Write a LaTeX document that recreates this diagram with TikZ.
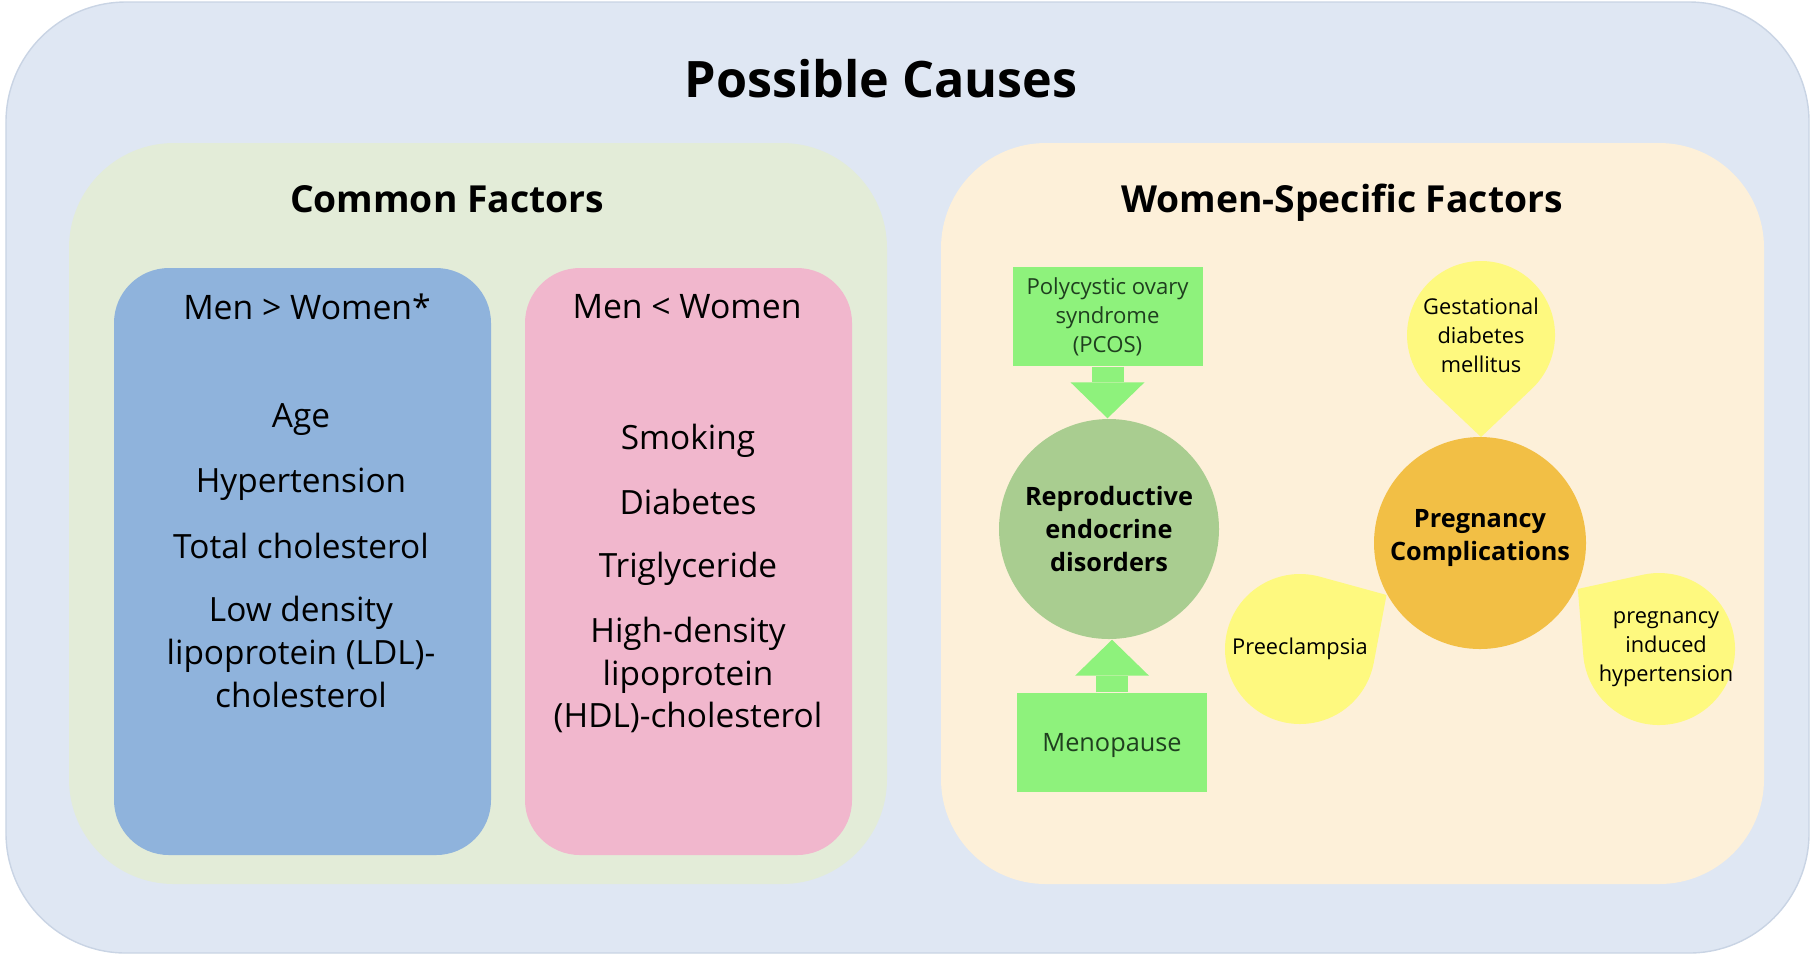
\documentclass[tikz,border=0pt]{standalone}
\usepackage{fontspec}
\setmainfont{Open Sans}
\usetikzlibrary{arrows.meta,calc}
\definecolor{outerblue}{HTML}{DFE7F3}
\definecolor{outerline}{HTML}{C9D4E4}
\definecolor{commongreen}{HTML}{E3ECD8}
\definecolor{womenbeige}{HTML}{FDF0D9}
\definecolor{menblue}{HTML}{8FB3DC}
\definecolor{womenpink}{HTML}{F1B7CD}
\definecolor{boxgreen}{HTML}{8EF27C}
\definecolor{reprogreen}{HTML}{A9CD90}
\definecolor{pregorange}{HTML}{F2BF45}
\definecolor{blobyellow}{HTML}{FEF97F}
\definecolor{textgreen}{HTML}{1F3F1F}
\newcommand{\tipwidth}{7.4mm}
\newcommand{\tiplength}{3.6mm}
\newcommand{\shaft}{3.2mm}
% teardrop: centre, tip angle, radius, tip distance
\newcommand{\blob}[4]{\fill[blobyellow] ($(#1)+(#2:#4)$) -- ($(#1)+({#2+acos(#3/#4)}:#3)$) arc[start angle={#2+acos(#3/#4)}, delta angle={360-2*acos(#3/#4)}, radius=#3] -- cycle;}

\begin{document}
\begin{tikzpicture}[
  panel/.style={rectangle, inner sep=0pt, rounded corners=#1},
  title/.style={font=\bfseries\fontsize{14.3}{17}\selectfont},
  subtitle/.style={font=\bfseries\fontsize{10.6}{13}\selectfont},
  boxtitle/.style={font=\fontsize{9.6}{12}\selectfont},
  item/.style={align=center, inner sep=0pt, font=\fontsize{9.5}{12.2}\selectfont},
  greenbox/.style={rectangle, fill=boxgreen, inner sep=0pt, align=center, text=textgreen, minimum width=1.9cm, minimum height=0.99cm},
  hub/.style={circle, inner sep=0pt, align=center, font=\bfseries\fontsize{7.2}{9.5}\selectfont},
  blobtext/.style={align=center, inner sep=0pt, font=\fontsize{6.2}{8.2}\selectfont},
  blockarrow/.style={draw=boxgreen, line width=\shaft, -{Triangle[width=\tipwidth, length=\tiplength, line width=0pt]}}
]
\useasboundingbox (0,0) rectangle (18.11,-9.57);
%panels
\node[panel=1.2cm, fill=outerblue, draw=outerline, minimum width=18.03cm, minimum height=9.51cm] (causes) at (9.075,-4.775) {};
\node[panel=1.05cm, fill=commongreen, minimum width=8.18cm, minimum height=7.41cm] (common) at (4.78,-5.135) {};
\node[panel=1.05cm, fill=womenbeige, minimum width=8.23cm, minimum height=7.41cm] (specific) at (13.525,-5.135) {};
\node[panel=0.55cm, fill=menblue, minimum width=3.77cm, minimum height=5.87cm] (menmore) at (3.025,-5.615) {};
\node[panel=0.55cm, fill=womenpink, minimum width=3.27cm, minimum height=5.87cm] (womenmore) at (6.885,-5.615) {};
%titles
\node[title] (causestitle) at (8.81,-0.79) {Possible Causes};
\node[subtitle] (commontitle) at (4.47,-1.99) {Common Factors};
\node[subtitle] (specifictitle) at (13.42,-2.03) {Women-Specific Factors};
\node[boxtitle] (menmoretitle) at (3.07,-3.07) {Men > Women*};
\node[boxtitle] (womenmoretitle) at (6.87,-3.07) {Men < Women};
%men > women
\node[item] (age) at (3.01,-4.20) {Age};
\node[item] (hyper) at (3.01,-4.84) {Hypertension};
\node[item] (tc) at (3.01,-5.46) {Total cholesterol};
\node[item] (ldl) at (3.01,-6.52) {Low density\\lipoprotein (LDL)-\\cholesterol};
%men < women
\node[item] (smoke) at (6.88,-4.41) {Smoking};
\node[item] (diab) at (6.88,-5.02) {Diabetes};
\node[item] (tg) at (6.88,-5.69) {Triglyceride};
\node[item] (hdl) at (6.88,-6.75) {High-density\\lipoprotein\\(HDL)-cholesterol};
%reproductive
\node[hub, fill=reprogreen, minimum size=2.2cm] (repro) at (11.09,-5.29) {Reproductive\\endocrine\\disorders};
\node[greenbox, font=\fontsize{6.3}{8.2}\selectfont] (pcos) at (11.075,-3.165) {Polycystic ovary\\syndrome\\(PCOS)};
\node[greenbox, text depth=0pt, font=\fontsize{7.2}{9}\selectfont] (meno) at (11.12,-7.425) {Menopause};
\draw[blockarrow] (pcos.south) -- (pcos.south |- repro.north);
\draw[blockarrow] (meno.north) -- (meno.north |- repro.south);
%pregnancy
\node[hub, fill=pregorange, minimum size=2.12cm, text depth=4.5pt] (preg) at (14.80,-5.43) {Pregnancy\\Complications};
\coordinate (gdmc) at (14.81,-3.35);
\coordinate (prec) at (13.00,-6.49);
\coordinate (pihc) at (16.59,-6.49);
\blob{gdmc}{-90}{0.74}{1.02}
\blob{prec}{32}{0.75}{1.02}
\blob{pihc}{143.5}{0.76}{1.01}
\node[blobtext] (gdm) at (gdmc) {Gestational\\diabetes\\mellitus};
\node[blobtext] (pre) at (prec) {Preeclampsia};
\node[blobtext] (pih) at ($(pihc)+(0.07,0)$) {pregnancy\\induced\\hypertension};
\end{tikzpicture}
\end{document}
